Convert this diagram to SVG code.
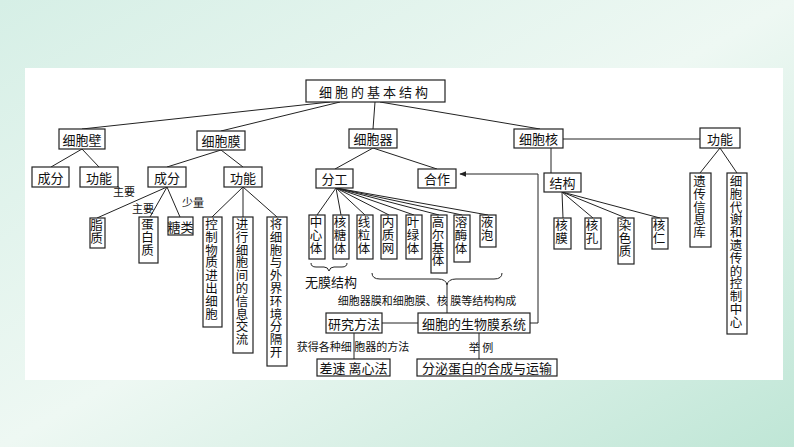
<svg xmlns="http://www.w3.org/2000/svg" width="794" height="447" viewBox="0 0 794 447">
<defs>
<linearGradient id="bg" x1="0" y1="0" x2="1" y2="1">
<stop offset="0" stop-color="#d6efe6"/><stop offset="0.5" stop-color="#eef8f3"/><stop offset="1" stop-color="#bfe6d6"/>
</linearGradient>
<marker id="ar" viewBox="0 0 10 10" refX="9" refY="5" markerWidth="7" markerHeight="7" orient="auto"><path d="M0,1 L10,5 L0,9 Z" fill="#222"/></marker>
</defs>
<style>
rect.b{fill:#fff;stroke:#222;stroke-width:1.2}
text{font-family:"Noto Sans CJK SC","Liberation Serif",serif;font-size:13px;fill:#111}
.c{text-anchor:middle;dominant-baseline:central}
.v{writing-mode:vertical-rl;text-anchor:start;letter-spacing:0.3px;font-size:12.5px}
.s{font-size:11px}
#conn line,#conn path,#conn polyline{stroke:#222;stroke-width:1;fill:none}
</style>
<rect width="794" height="447" fill="url(#bg)"/>
<rect x="25" y="68" width="758" height="312" fill="#fff"/>
<g id="conn">
<line x1="330" y1="102" x2="82" y2="129"/>
<line x1="340" y1="102" x2="221" y2="131"/>
<line x1="375" y1="102" x2="373" y2="129"/>
<line x1="380" y1="102" x2="540" y2="129"/>
<line x1="82" y1="149" x2="51" y2="167"/>
<line x1="82" y1="149" x2="99" y2="167"/>
<line x1="221" y1="150" x2="167" y2="167"/>
<line x1="221" y1="150" x2="243" y2="167"/>
<line x1="167" y1="187" x2="97" y2="218"/>
<line x1="167" y1="187" x2="150" y2="217"/>
<line x1="167" y1="187" x2="180" y2="217"/>
<line x1="243" y1="187" x2="212" y2="217"/>
<line x1="243" y1="187" x2="243" y2="217"/>
<line x1="243" y1="187" x2="277" y2="217"/>
<line x1="373" y1="148" x2="335" y2="169"/>
<line x1="373" y1="148" x2="437" y2="169"/>
<line x1="336" y1="188" x2="317" y2="215"/>
<line x1="336" y1="188" x2="341" y2="215"/>
<line x1="336" y1="188" x2="365" y2="215"/>
<line x1="336" y1="188" x2="389" y2="215"/>
<line x1="336" y1="188" x2="414" y2="215"/>
<line x1="336" y1="188" x2="439" y2="215"/>
<line x1="336" y1="188" x2="462" y2="215"/>
<line x1="336" y1="188" x2="488" y2="215"/>
<path d="M311,263 q0,4 5,4 h8 q4,0 5,4 q1,-4 5,-4 h8 q5,0 5,-4"/>
<path d="M372,273 q0,6 8,6 h58 q8,0 9,6 q1,-6 9,-6 h38 q8,0 8,-6"/>
<line x1="447" y1="285" x2="447" y2="313"/>
<line x1="382" y1="323" x2="418" y2="323"/>
<polyline points="530,323 538,323 538,174 460,174" marker-end="url(#ar)"/>
<line x1="354" y1="333" x2="354" y2="359"/>
<line x1="479" y1="333" x2="479" y2="359"/>
<line x1="563" y1="139" x2="700" y2="139"/>
<line x1="551" y1="148" x2="551" y2="173"/>
<line x1="562" y1="192" x2="563" y2="218"/>
<line x1="562" y1="192" x2="593" y2="218"/>
<line x1="562" y1="192" x2="626" y2="218"/>
<line x1="562" y1="192" x2="660" y2="218"/>
<line x1="720" y1="148" x2="700" y2="173"/>
<line x1="720" y1="148" x2="737" y2="173"/>
</g>
<g id="root"><rect class="b" x="306" y="80" width="139" height="22"/><text class="c" x="375" y="91" style="letter-spacing:3px">细胞的基本结构</text></g>
<g id="wall"><rect class="b" x="59" y="129" width="46" height="20"/><text class="c" x="82" y="139">细胞壁</text></g>
<g id="mem"><rect class="b" x="197" y="131" width="48" height="19"/><text class="c" x="221" y="140.5">细胞膜</text></g>
<g id="org"><rect class="b" x="349" y="129" width="48" height="19"/><text class="c" x="373" y="138.5">细胞器</text></g>
<g id="nuc"><rect class="b" x="514" y="129" width="49" height="19"/><text class="c" x="538.5" y="138.5">细胞核</text></g>
<g id="nfunc"><rect class="b" x="700" y="128" width="40" height="20"/><text class="c" x="720" y="138">功能</text></g>
<g id="wcomp"><rect class="b" x="32" y="167" width="37" height="20"/><text class="c" x="50.5" y="177">成分</text></g>
<g id="wfunc"><rect class="b" x="80" y="167" width="38" height="20"/><text class="c" x="99" y="177">功能</text></g>
<g id="mcomp"><rect class="b" x="148" y="167" width="38" height="20"/><text class="c" x="167" y="177">成分</text></g>
<g id="mfunc"><rect class="b" x="224" y="167" width="38" height="20"/><text class="c" x="243" y="177">功能</text></g>
<g id="fengong"><rect class="b" x="316" y="169" width="37" height="19"/><text class="c" x="334.5" y="178.5">分工</text></g>
<g id="hezuo"><rect class="b" x="418" y="169" width="38" height="19"/><text class="c" x="437" y="178.5">合作</text></g>
<g id="jiegou"><rect class="b" x="544" y="173" width="37" height="19"/><text class="c" x="562.5" y="182.5">结构</text></g>
<g id="labels">
<text class="s" x="113" y="196">主要</text>
<text class="s" x="132" y="213">主要</text>
<text class="s" x="182" y="207">少量</text>
</g>
<g id="zhizhi"><rect class="b" x="90" y="218" width="15" height="30"/><text class="v" x="96.5" y="219">脂质</text></g>
<g id="dbz"><rect class="b" x="139" y="217" width="19" height="46"/><text class="v" x="147.5" y="218">蛋白质</text></g>
<g id="tang"><rect class="b" x="168" y="217" width="25" height="18"/><text class="c" x="180.5" y="226">糖类</text></g>
<g id="f1"><rect class="b" x="203" y="217" width="19" height="110"/><text class="v" x="211.5" y="218">控制物质进出细胞</text></g>
<g id="f2"><rect class="b" x="233" y="217" width="20" height="136"/><text class="v" x="242" y="218">进行细胞间的信息交流</text></g>
<g id="f3"><rect class="b" x="267" y="217" width="20" height="149"/><text class="v" x="276" y="218">将细胞与外界环境分隔开</text></g>
<g id="o1"><rect class="b" x="309" y="215" width="16" height="44"/><text class="v" x="316" y="216">中心体</text></g>
<g id="o2"><rect class="b" x="333" y="215" width="16" height="44"/><text class="v" x="340" y="216">核糖体</text></g>
<g id="o3"><rect class="b" x="357" y="215" width="16" height="44"/><text class="v" x="364" y="216">线粒体</text></g>
<g id="o4"><rect class="b" x="381" y="215" width="16" height="44"/><text class="v" x="388" y="216">内质网</text></g>
<g id="o5"><rect class="b" x="406" y="215" width="16" height="44"/><text class="v" x="413" y="216">叶绿体</text></g>
<g id="o6"><rect class="b" x="431" y="215" width="16" height="58"/><text class="v" x="438" y="216">高尔基体</text></g>
<g id="o7"><rect class="b" x="454" y="215" width="16" height="47"/><text class="v" x="461" y="216">溶酶体</text></g>
<g id="o8"><rect class="b" x="480" y="215" width="16" height="32"/><text class="v" x="487" y="216">液泡</text></g>
<g id="t1"><text class="c" x="331" y="281">无膜结构</text></g>
<g id="t2"><text class="c s" x="427" y="300">细胞器膜和细胞膜、核 膜等结构构成</text></g>
<g id="yanjiu"><rect class="b" x="326" y="313" width="56" height="20"/><text class="c" x="354" y="323">研究方法</text></g>
<g id="swm"><rect class="b" x="418" y="313" width="112" height="20"/><text class="c" x="474" y="323">细胞的生物膜系统</text></g>
<g id="t3"><text class="c s" x="353" y="346">获得各种细  胞器的方法</text><text class="c s" x="481" y="347">举   例</text></g>
<g id="chasu"><rect class="b" x="317" y="359" width="73" height="17"/><text class="c" x="353.5" y="367.5">差速 离心法</text></g>
<g id="fenmi"><rect class="b" x="417" y="359" width="140" height="17"/><text class="c" x="487" y="367.5">分泌蛋白的合成与运输</text></g>
<g id="n1"><rect class="b" x="554" y="218" width="17" height="31"/><text class="v" x="561.5" y="219">核膜</text></g>
<g id="n2"><rect class="b" x="585" y="218" width="16" height="31"/><text class="v" x="592" y="219">核孔</text></g>
<g id="n3"><rect class="b" x="618" y="218" width="16" height="46"/><text class="v" x="625" y="219">染色质</text></g>
<g id="n4"><rect class="b" x="652" y="218" width="16" height="31"/><text class="v" x="659" y="219">核仁</text></g>
<g id="g1"><rect class="b" x="690" y="173" width="21" height="74"/><text class="v" x="699.5" y="175">遗传信息库</text></g>
<g id="g2"><rect class="b" x="727" y="173" width="20" height="161"/><text class="v" x="736" y="175">细胞代谢和遗传的控制中心</text></g>
</svg>
